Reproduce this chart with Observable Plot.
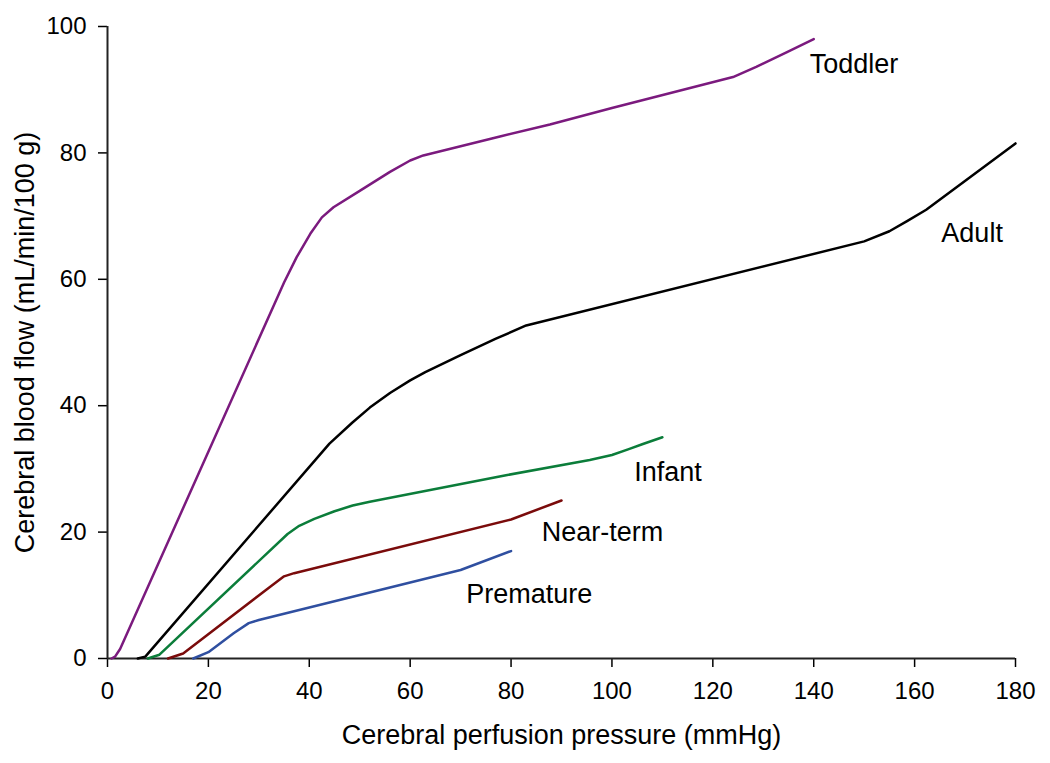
<!DOCTYPE html>
<html><head><meta charset="utf-8">
<script src="https://cdn.jsdelivr.net/npm/d3@7"></script>
<script src="https://cdn.jsdelivr.net/npm/@observablehq/plot@0.6"></script>
<style>body{margin:0;background:#fff}</style>
</head><body><div id="chart"></div>
<script>
// Series names, colours
const seriesNames = ["Toddler", "Adult", "Infant", "Near-term", "Premature"];
const seriesColors = ["#7b1a7e", "#000000", "#0b7d3a", "#7a0b0b", "#2f4fa0"];

// Cerebral perfusion pressure (mmHg) / cerebral blood flow (mL/min/100 g)
const toddlerP = [0.8, 1.5, 2.5, 35, 37.5, 40.2, 42.5, 44.8, 50, 56, 60, 62.6, 77.8, 87.7, 100, 124, 128.6, 134.6, 140];
const toddlerF = [0, 0.3, 1.5, 59.5, 63.5, 67.2, 69.8, 71.4, 74, 77, 78.8, 79.6, 82.6, 84.5, 87.1, 92, 93.6, 95.9, 98];
const adultP = [6, 7.5, 44, 48.5, 52, 56, 60, 63, 70, 77, 83, 150, 155, 158.5, 162.3, 180];
const adultF = [0, 0.3, 34, 37.3, 39.7, 42, 44, 45.3, 48, 50.6, 52.7, 66, 67.6, 69.2, 71, 81.5];
const infantP = [8, 10.3, 35.7, 38, 41, 45, 48.6, 52, 79, 95.6, 100, 103.2, 106, 110];
const infantF = [0, 0.6, 19.7, 21, 22.1, 23.3, 24.2, 24.8, 29, 31.4, 32.2, 33.1, 33.9, 35];
const nearTermP = [12, 15, 32, 35, 37, 80, 90];
const nearTermF = [0, 0.8, 11.2, 13, 13.5, 22, 25];
const prematureP = [17, 20, 25, 28, 30, 70, 80];
const prematureF = [0, 1, 4, 5.6, 6.1, 14, 17];

// Curve labels
const labelX = [139.2, 165.3, 104.4, 86.1, 71.1];
const labelY = [94, 67.3, 29.4, 19.9, 10.1];

// Ticks and axis titles
const xTicks = [0, 20, 40, 60, 80, 100, 120, 140, 160, 180];
const yTicks = [0, 20, 40, 60, 80, 100];
const xTitle = "Cerebral perfusion pressure (mmHg)";
const yTitle = "Cerebral blood flow (mL/min/100 g)";

const seriesP = [toddlerP, adultP, infantP, nearTermP, prematureP];
const seriesF = [toddlerF, adultF, infantF, nearTermF, prematureF];
const rows = seriesNames.flatMap((s, i) => seriesP[i].map((p, j) => ({s, p, f: seriesF[i][j]})));
const labels = seriesNames.map((s, i) => ({s, x: labelX[i], y: labelY[i]}));

const chart = Plot.plot({
  width: 1050, height: 763,
  marginLeft: 107, marginRight: 35, marginTop: 26, marginBottom: 105,
  style: {fontFamily: "'Liberation Sans', Arial, sans-serif", fontSize: "24px", color: "#000", background: "#fff"},
  x: {domain: [0, 180]},
  y: {domain: [0, 100]},
  color: {domain: seriesNames, range: seriesColors},
  marks: [
    Plot.axisX({ticks: xTicks, tickSize: 9, tickPadding: 14, label: null, fontSize: 24, strokeWidth: 1.5}),
    Plot.axisY({ticks: yTicks, tickSize: 9, tickPadding: 12, label: null, fontSize: 24, strokeWidth: 1.5}),
    Plot.ruleX([0], {stroke: "#222", strokeWidth: 2}),
    Plot.ruleY([0], {stroke: "#222", strokeWidth: 2}),
    Plot.line(rows, {x: "p", y: "f", z: "s", stroke: "s", strokeWidth: 2.5}),
    Plot.text(labels, {x: "x", y: "y", text: "s", textAnchor: "start", fontSize: 27, fill: "#000"}),
    Plot.text([xTitle], {frameAnchor: "bottom", dy: 77, text: d => d, textAnchor: "middle", lineAnchor: "middle", fontSize: 27, fill: "#000"}),
    Plot.text([yTitle], {frameAnchor: "left", dx: -82, rotate: -90, text: d => d, textAnchor: "middle", lineAnchor: "middle", fontSize: 27, fill: "#000"})
  ]
});
document.getElementById("chart").appendChild(chart);
</script>
</body></html>
